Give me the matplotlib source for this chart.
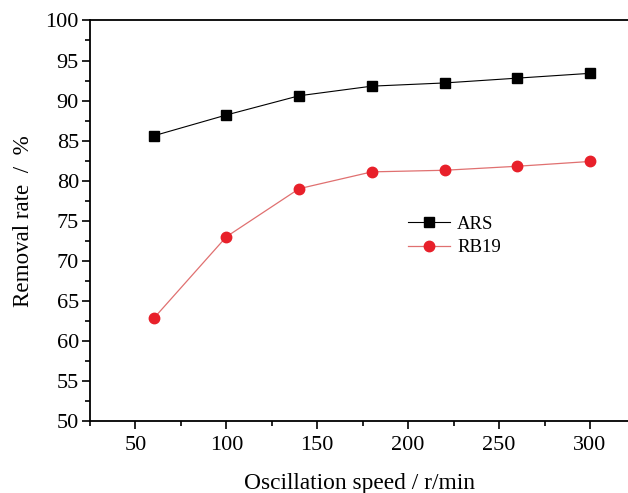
import matplotlib
matplotlib.use('Agg')
import matplotlib.pyplot as plt
from matplotlib.ticker import MultipleLocator

plt.rcParams['font.family'] = ['Liberation Serif', 'DejaVu Serif']

speed = [60, 100, 140, 180, 220, 260, 300]
ars = [85.6, 88.2, 90.6, 91.8, 92.2, 92.8, 93.4]
rb19 = [62.8, 73.0, 79.0, 81.1, 81.3, 81.8, 82.4]

fig = plt.figure(figsize=(6.28, 4.93), dpi=100)
ax = fig.add_axes([0.1433, 0.146, 0.857, 0.8125])

ax.plot(speed, ars, color='black', lw=0.8, marker='s', ms=6.5, label='ARS')
ax.plot(speed, rb19, color='#e07070', lw=0.9, marker='o', ms=7.5,
        mfc='#e8202a', mec='#e8202a', label='RB19')

ax.set_xlim(25, 321)
ax.set_ylim(50, 100)
ax.xaxis.set_major_locator(MultipleLocator(50))
ax.xaxis.set_minor_locator(MultipleLocator(25))
ax.yaxis.set_major_locator(MultipleLocator(5))
ax.yaxis.set_minor_locator(MultipleLocator(2.5))
ax.tick_params(which='major', direction='out', length=6, width=1.2, labelsize=16)
ax.tick_params(which='minor', direction='out', length=3.5, width=1.2)
ax.tick_params(axis='y', pad=2)
ax.tick_params(axis='x', pad=5)

ax.spines['right'].set_visible(False)
for s in ['left', 'bottom', 'top']:
    ax.spines[s].set_linewidth(1.3)

ax.set_xlabel('Oscillation speed / r/min', fontsize=16.8, labelpad=13)
ax.set_ylabel('Removal rate  /  %', fontsize=16.6, labelpad=8)

ax.legend(loc='upper left', bbox_to_anchor=(0.56, 0.555), frameon=False,
          fontsize=13.5, handlelength=2.2, handletextpad=0.4, labelspacing=0.35)

fig.savefig('out.png', dpi=100)
